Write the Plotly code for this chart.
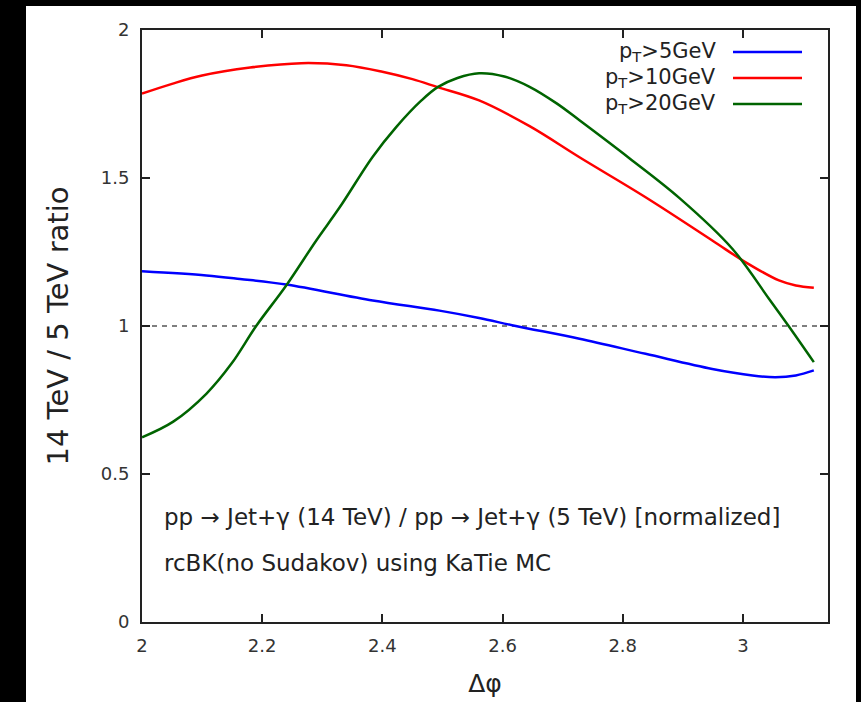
import plotly.graph_objects as go

# ---- data ----
x_pt5 = [2.0, 2.107, 2.163, 2.24, 2.384, 2.495, 2.561, 2.622, 2.728, 2.838, 2.949, 3.016, 3.054, 3.088, 3.118]
y_pt5 = [1.185, 1.171, 1.159, 1.14, 1.086, 1.052, 1.027, 1.0, 0.957, 0.906, 0.855, 0.833, 0.827, 0.833, 0.850]

x_pt10 = [2.0, 2.05, 2.1, 2.18, 2.265, 2.34, 2.4, 2.45, 2.492, 2.561, 2.645, 2.728, 2.838, 2.949, 3.004, 3.06, 3.088, 3.118]
y_pt10 = [1.785, 1.818, 1.846, 1.873, 1.888, 1.881, 1.859, 1.834, 1.807, 1.762, 1.675, 1.570, 1.435, 1.289, 1.216, 1.154, 1.137, 1.129]

x_pt20 = [2.0, 2.052, 2.107, 2.149, 2.19, 2.24, 2.29, 2.329, 2.384, 2.423, 2.465, 2.492, 2.525, 2.561, 2.603, 2.645, 2.69, 2.728, 2.811, 2.894, 2.982, 3.043, 3.076, 3.118]
y_pt20 = [0.624, 0.677, 0.771, 0.873, 1.0, 1.137, 1.289, 1.401, 1.572, 1.672, 1.762, 1.807, 1.838, 1.854, 1.843, 1.808, 1.752, 1.695, 1.567, 1.433, 1.262, 1.093, 1.0, 0.878]

series_names = ["p<sub>T</sub>>5GeV", "p<sub>T</sub>>10GeV", "p<sub>T</sub>>20GeV"]
series_colors = ["#0000ff", "#ff0000", "#006400"]

x_ticks = [2, 2.2, 2.4, 2.6, 2.8, 3]
y_ticks = [0, 0.5, 1, 1.5, 2]
x_range = [2, 3.14159]
y_range = [0, 2]
ref_level = 1.0

notes = ["pp \u2192 Jet+\u03b3 (14 TeV) / pp \u2192 Jet+\u03b3 (5 TeV) [normalized]",
         "rcBK(no Sudakov) using KaTie MC"]

FONT = "DejaVu Sans"
L, R, T, B = 142, 33, 30, 80
W, H = 861, 702
pw, ph = W - L - R, H - T - B

def px2x(px):
    return (px - L) / pw

def py2y(py):
    return (H - B - py) / ph

fig = go.Figure()
xs = [x_pt5, x_pt10, x_pt20]
ys = [y_pt5, y_pt10, y_pt20]
for xv, yv, name, col in zip(xs, ys, series_names, series_colors):
    fig.add_trace(go.Scatter(x=xv, y=yv, mode="lines", name=name,
                             line=dict(color=col, width=2.5, shape="spline", smoothing=1.0),
                             showlegend=False))

shapes = [
    # white page area on black background
    dict(type="rect", xref="paper", yref="paper", x0=px2x(26), x1=px2x(856), y0=py2y(720), y1=py2y(6),
         fillcolor="white", line=dict(width=0), layer="below"),
    # reference dashed line
    dict(type="line", xref="x", yref="y", x0=x_range[0], x1=x_range[1], y0=ref_level, y1=ref_level,
         line=dict(color="#555555", width=1.6, dash="5px,5px"), layer="below"),
]

annotations = []
# custom legend: text on the left, sample line on the right
leg_rows = [52, 78, 104]
for name, col, py in zip(series_names, series_colors, leg_rows):
    annotations.append(dict(xref="paper", yref="paper", x=px2x(718), y=py2y(py), text=name,
                            xanchor="right", yanchor="middle", showarrow=False,
                            font=dict(family=FONT, size=21, color="#222222")))
    shapes.append(dict(type="line", xref="paper", yref="paper", x0=px2x(733), x1=px2x(802),
                       y0=py2y(py), y1=py2y(py), line=dict(color=col, width=2.5)))

for txt, py in zip(notes, [517, 563]):
    annotations.append(dict(xref="paper", yref="paper", x=px2x(162), y=py2y(py), text=txt,
                            xanchor="left", yanchor="middle", showarrow=False,
                            font=dict(family=FONT, size=23, color="#222222")))

axis_common = dict(showgrid=False, zeroline=False, showline=True, linecolor="#222222", linewidth=2,
                   mirror="ticks", ticks="inside", ticklen=8, tickwidth=1.5, tickcolor="#222222",
                   automargin=False,
                   tickfont=dict(family=FONT, size=18, color="#333333"))

fig.update_layout(
    width=W, height=H,
    margin=dict(l=L, r=R, t=T, b=B, pad=0, autoexpand=False),
    paper_bgcolor="black", plot_bgcolor="white",
    xaxis=dict(range=x_range, tickvals=x_ticks, ticktext=[f"{v:g}" for v in x_ticks],
               ticklabelstandoff=6,
               title=dict(text="\u0394\u03c6", font=dict(family=FONT, size=25, color="#222222"), standoff=20),
               **axis_common),
    yaxis=dict(range=y_range, tickvals=y_ticks, ticktext=[f"{v:g}" for v in y_ticks],
               ticklabelstandoff=7,
               title=dict(text="14 TeV / 5 TeV ratio", font=dict(family=FONT, size=29, color="#222222"), standoff=24),
               **axis_common),
    shapes=shapes,
    annotations=annotations,
    showlegend=False,
)

fig.write_html("out.html")
